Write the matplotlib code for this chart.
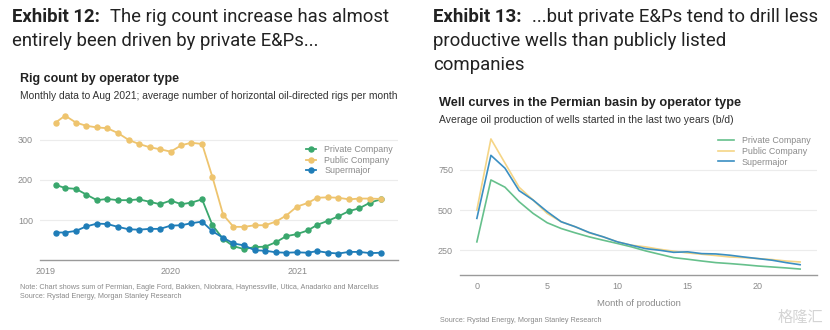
import numpy as np
import pandas as pd
import matplotlib
matplotlib.use("Agg")
import matplotlib.pyplot as plt
import matplotlib.dates as mdates

# Exhibit 12: monthly rig counts, Jan 2019 - Aug 2021
months = pd.date_range("2019-01-31", "2021-08-31", freq="ME")
rig_private = [188, 180, 178, 164, 150, 153, 150, 150, 152, 146, 140, 149,
               140, 144, 152, 88, 54, 36, 29, 34, 35, 46, 61, 66,
               75, 89, 99, 110, 123, 130, 144, 152]
rig_public = [342, 359, 342, 334, 330, 328, 316, 299, 289, 281, 276, 270,
              286, 292, 289, 207, 114, 84, 84, 88, 88, 97, 112, 134,
              143, 156, 157, 156, 152, 154, 154, 153]
rig_super = [70, 70, 74, 85, 92, 91, 84, 78, 77, 79, 79, 87,
             88, 93, 97, 73, 57, 43, 38, 26, 25, 21, 20, 21,
             20, 24, 20, 18, 22, 22, 19, 20]

# Exhibit 13: Permian well curves, b/d by month of production
well_month = list(range(24))
well_private = [302, 687, 642, 552, 479, 421, 385, 358, 333, 312, 292, 271,
                246, 225, 204, 194, 183, 173, 167, 160, 152, 146, 140, 133]
well_public = [500, 942, 792, 642, 562, 479, 427, 396, 358, 333, 302, 281,
               271, 256, 244, 233, 225, 217, 208, 204, 198, 192, 183, 177]
well_super = [448, 840, 760, 621, 562, 490, 427, 396, 360, 333, 302, 281,
              260, 250, 237, 240, 229, 227, 219, 208, 198, 188, 173, 160]

series_names = ["Private Company", "Public Company", "Supermajor"]

W, H = 830, 330
fig = plt.figure(figsize=(W / 100, H / 100), dpi=100)
fig.patch.set_facecolor("white")
sans = "Liberation Sans"


def px_axes(x0, y_top, x1, y_bot):
    return fig.add_axes([x0 / W, 1 - y_bot / H, (x1 - x0) / W, (y_bot - y_top) / H])


def style_axes(ax):
    for s in ["top", "right", "left"]:
        ax.spines[s].set_visible(False)
    ax.spines["bottom"].set_color("#9a9a9a")
    ax.spines["bottom"].set_linewidth(1.0)
    ax.tick_params(length=0, labelsize=6.5, labelcolor="#8a8a8a", pad=5)
    ax.grid(axis="y", color="#ececec", linewidth=0.8)
    ax.set_axisbelow(True)
    for lab in ax.get_xticklabels() + ax.get_yticklabels():
        lab.set_fontfamily(sans)


def two_part_title(x, y, bold, rest, lines, size):
    t = fig.text(x / W, 1 - y / H, bold, fontsize=size, fontweight="bold",
                 family="Roboto", color="#222222", va="baseline")
    fig.canvas.draw()
    bb = t.get_window_extent()
    fig.text((bb.x1 + 10) / W, 1 - y / H, rest, fontsize=size, family="Roboto",
             color="#222222", va="baseline")
    for i, ln in enumerate(lines):
        fig.text(x / W, 1 - (y + 23.8 * (i + 1)) / H, ln, fontsize=size,
                 family="Roboto", color="#222222", va="baseline")


def grey_legend(ax, anchor, handlelength):
    leg = ax.legend(loc="upper left", bbox_to_anchor=anchor, frameon=False,
                    handlelength=handlelength, handletextpad=0.9,
                    labelspacing=0.2, prop={"family": sans, "size": 6.4})
    for txt in leg.get_texts():
        txt.set_color("#8a8a8a")
    return leg


# ---- left panel: rig count ----
two_part_title(12, 22.5, "Exhibit 12:", "The rig count increase has almost",
               ["entirely been driven by private E&Ps..."], 13.3)
fig.text(20 / W, 1 - 82 / H, "Rig count by operator type", fontsize=9,
         fontweight="bold", family=sans, color="#222222", va="baseline")
fig.text(20 / W, 1 - 99 / H,
         "Monthly data to Aug 2021; average number of horizontal oil-directed rigs per month",
         fontsize=7.35, family=sans, color="#333333", va="baseline")

ax1 = px_axes(40, 108, 398, 260)
c_priv, c_pub, c_sup = "#3aa76d", "#eec46e", "#1f7db8"
for vals, col, name in zip([rig_private, rig_public, rig_super],
                           [c_priv, c_pub, c_sup], series_names):
    ax1.plot(months, vals, color=col, linewidth=1.3, marker="o",
             markersize=3.6, label=name)
ax1.set_ylim(2, 378)
ax1.set_yticks([100, 200, 300])
ax1.set_xlim(pd.Timestamp("2018-12-17"), pd.Timestamp("2021-10-20"))
ax1.set_xticks([pd.Timestamp(f"{y}-01-01") for y in (2019, 2020, 2021)])
ax1.xaxis.set_major_formatter(mdates.DateFormatter("%Y"))
style_axes(ax1)
grey_legend(ax1, (0.72, 0.81), 1.2)

fig.text(20 / W, 1 - 289 / H,
         "Note: Chart shows sum of Permian, Eagle Ford, Bakken, Niobrara, Haynessville, Utica, Anadarko and Marcellus",
         fontsize=5.2, family=sans, color="#8a8a8a", va="baseline")
fig.text(20 / W, 1 - 298 / H, "Source: Rystad Energy, Morgan Stanley Research",
         fontsize=5.2, family=sans, color="#8a8a8a", va="baseline")

# ---- right panel: well curves ----
two_part_title(433, 22.5, "Exhibit 13:", "...but private E&Ps tend to drill less",
               ["productive wells than publicly listed", "companies"], 13.4)
fig.text(439 / W, 1 - 106 / H, "Well curves in the Permian basin by operator type",
         fontsize=9.15, fontweight="bold", family=sans, color="#222222", va="baseline")
fig.text(439 / W, 1 - 123 / H,
         "Average oil production of wells started in the last two years (b/d)",
         fontsize=7.45, family=sans, color="#333333", va="baseline")

ax2 = px_axes(460, 128, 817, 275)
w_priv, w_pub, w_sup = "#66c08c", "#f5d586", "#3b8fc2"
for vals, col, name in zip([well_private, well_public, well_super],
                           [w_priv, w_pub, w_sup], series_names):
    ax2.plot(well_month, vals, color=col, linewidth=1.2, label=name)
ax2.set_ylim(96, 1010)
ax2.set_yticks([250, 500, 750])
ax2.set_xlim(-1.2, 24.2)
ax2.set_xticks([0, 5, 10, 15, 20])
style_axes(ax2)
ax2.set_xlabel("Month of production", fontsize=6.8, color="#8a8a8a",
               family=sans, labelpad=6)
grey_legend(ax2, (0.70, 1.0), 1.8)

fig.text(440 / W, 1 - 322 / H, "Source: Rystad Energy, Morgan Stanley Research",
         fontsize=5.2, family=sans, color="#8a8a8a", va="baseline")
fig.text(823 / W, 1 - 322 / H, "格隆汇", fontsize=11, ha="right",
         family=["Noto Sans CJK SC", "DejaVu Sans"], color="#d4d4d4",
         va="baseline")

fig.savefig("out.png", dpi=100, facecolor="white")
